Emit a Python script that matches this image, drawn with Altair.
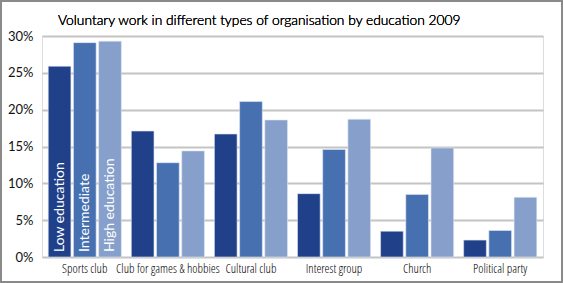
import altair as alt
import pandas as pd

categories = ["Sports club", "Club for games & hobbies", "Cultural club",
              "Interest group", "Church", "Political party"]
education = ["Low education", "Intermediate", "High education"]
low = [25.9, 17.1, 16.7, 8.6, 3.5, 2.3]
intermediate = [29.1, 12.8, 21.1, 14.6, 8.5, 3.6]
high = [29.3, 14.4, 18.6, 18.7, 14.8, 8.1]
colors = ["#20418a", "#4770b0", "#86a0cb"]
title = "Voluntary work in different types of organisation by education 2009"

rows = []
for i, c in enumerate(categories):
    for e, vals in zip(education, [low, intermediate, high]):
        rows.append({"cat": c, "edu": e, "value": vals[i] / 100})
df = pd.DataFrame(rows)
lab = pd.DataFrame({"cat": [categories[0]] * 3, "edu": education, "value": [0, 0, 0]})

label_font = ("'Open Sans Condensed Light', 'Noto Sans Condensed Light', 'Noto Sans ExtraCondensed', "
              "'Noto Sans Condensed', 'Open Sans Condensed', 'DejaVu Sans Condensed'")

xenc = alt.X("cat:N", sort=categories, title=None,
             scale=alt.Scale(paddingInner=0.12, paddingOuter=0.075),
             axis=alt.Axis(labelAngle=0, labelFont=label_font, labelFontSize=12.6,
                           labelFontWeight=400,
                           labelColor="#000", labelPadding=5, ticks=False,
                           domain=False, labelLimit=200, labelOverlap=False))
xoff = alt.XOffset("edu:N", sort=education, scale=alt.Scale(paddingInner=0.1, paddingOuter=0))
yenc = alt.Y("value:Q", title=None,
             scale=alt.Scale(domain=[0, 0.3]),
             axis=alt.Axis(format=".0%", values=[0, 0.05, 0.1, 0.15, 0.2, 0.25, 0.3],
                           labelFont="Lato", labelFontSize=13, labelColor="#111",
                           labelPadding=9, ticks=False, domain=False, labelOverlap=False,
                           grid=True, gridColor="#c4c4c4", gridWidth=2))
color = alt.Color("edu:N", sort=education, scale=alt.Scale(domain=education, range=colors),
                  legend=None)

bars = alt.Chart(df).mark_bar(stroke="#dfe6f2", strokeWidth=1, strokeOpacity=0.6).encode(
    x=xenc, xOffset=xoff, y=yenc, color=color)

texts = alt.Chart(lab).mark_text(angle=270, align="left", baseline="middle", dx=5,
                                 color="white", font="Lato", fontSize=14).encode(
    x=xenc, xOffset=xoff, y=yenc, text="edu:N")

title_mark = alt.Chart(lab).mark_text(align="left", baseline="alphabetic", font="Lato",
                                      fontSize=13.8, fontWeight=300, color="#000").encode(
    x=alt.value(16), y=alt.value(-11), text=alt.value(title))

border = alt.Chart(lab).mark_rect(fill=None, stroke="#8a8a8a", strokeWidth=2).encode(
    x=alt.value(-41), x2=alt.value(520), y=alt.value(-35), y2=alt.value(246))

chart = alt.layer(bars, texts, title_mark, border).properties(
    width=501, height=221,
    padding={"left": 42, "top": 36, "right": 21, "bottom": 26},
    autosize=alt.AutoSizeParams(type="none"),
).configure_view(stroke=None).configure(background="white")

chart.save("out.html", embed_options={"renderer": "svg", "actions": False})
